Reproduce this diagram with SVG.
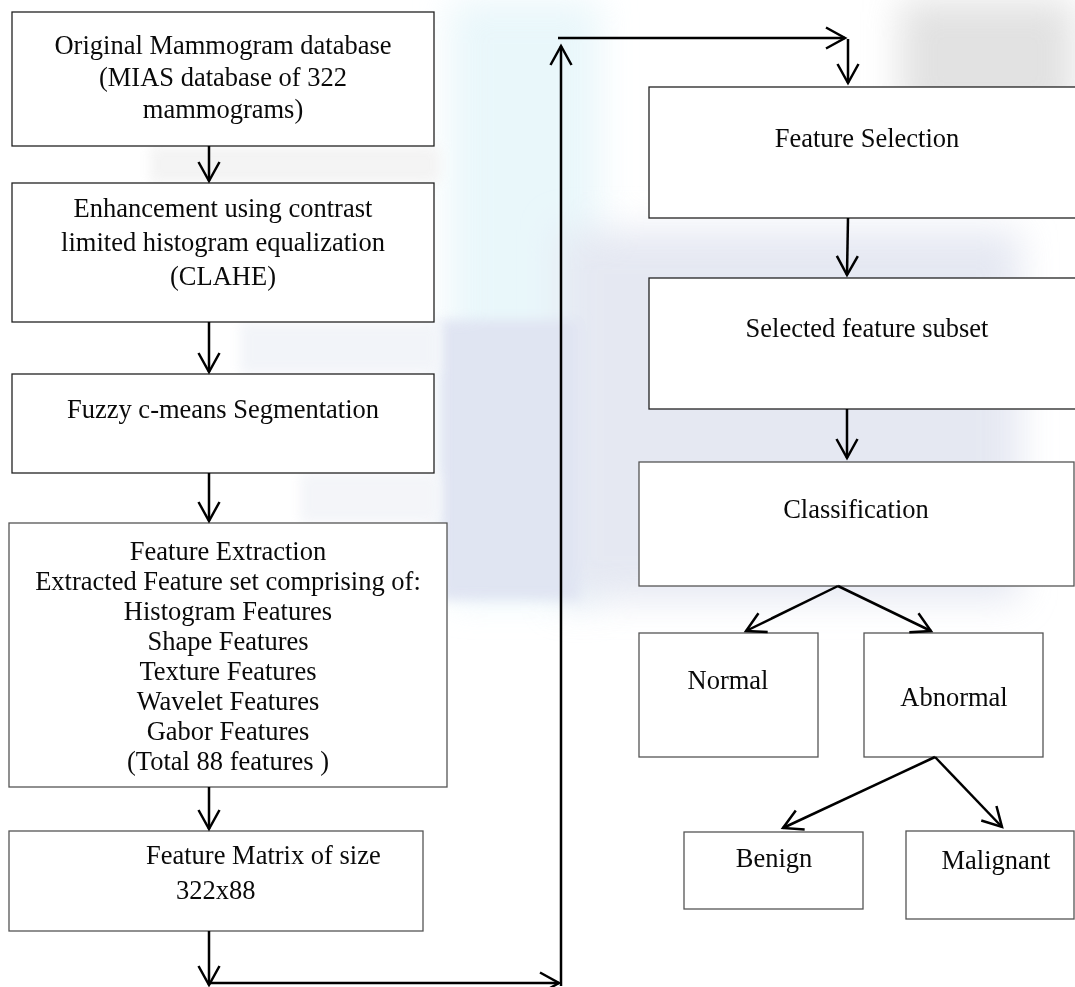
<svg xmlns="http://www.w3.org/2000/svg" width="1075" height="987" viewBox="0 0 1075 987">
<style>
.box{fill:#fff;stroke:#222;stroke-width:1.3}
.box2{fill:#fff;stroke:#555;stroke-width:1.3}
.t{font-family:"Liberation Serif","Times New Roman",serif;font-size:26.5px;fill:#0a0a0a;text-anchor:middle}
.ts{font-family:"Liberation Serif","Times New Roman",serif;font-size:26.5px;fill:#0a0a0a}
.c{stroke:#000;stroke-width:2.5;fill:none;marker-end:url(#ah)}
</style>
<defs>
<marker id="ah" markerUnits="userSpaceOnUse" markerWidth="40" markerHeight="40" viewBox="-20 -20 40 40" refX="0" refY="0" orient="auto" overflow="visible">
<path d="M-19,-10.5 L0,0 L-19,10.5" fill="none" stroke="#000" stroke-width="2.5"/>
</marker>
<filter id="blur" x="-50%" y="-50%" width="200%" height="200%"><feGaussianBlur stdDeviation="18"/></filter>
<filter id="blur2" x="-50%" y="-50%" width="200%" height="200%"><feGaussianBlur stdDeviation="6"/></filter>
</defs>
<rect x="0" y="0" width="1075" height="987" fill="#fff"/>
<g id="watermark" opacity="0.75">
<rect x="450" y="0" width="150" height="600" fill="#e2f4f9" filter="url(#blur)"/>
<rect x="560" y="230" width="460" height="370" fill="#dde1ee" filter="url(#blur)"/>
<rect x="440" y="320" width="140" height="280" fill="#d6dcee" filter="url(#blur2)"/>
<rect x="900" y="0" width="175" height="120" fill="#d8d8d8" filter="url(#blur)"/>
<rect x="150" y="146" width="290" height="37" fill="#f0f0f0" filter="url(#blur2)"/>
<rect x="240" y="322" width="200" height="52" fill="#eef1f7" filter="url(#blur2)"/>
<rect x="300" y="473" width="140" height="50" fill="#f0f2f7" filter="url(#blur2)"/>
</g>
<g id="n1"><rect class="box" x="12" y="12" width="422" height="134"/>
<text class="t" x="223" y="54">Original Mammogram database</text>
<text class="t" x="223" y="86">(MIAS database of 322</text>
<text class="t" x="223" y="118">mammograms)</text></g>
<g id="n2"><rect class="box" x="12" y="183" width="422" height="139"/>
<text class="t" x="223" y="217">Enhancement using contrast</text>
<text class="t" x="223" y="251">limited histogram equalization</text>
<text class="t" x="223" y="285">(CLAHE)</text></g>
<g id="n3"><rect class="box" x="12" y="374" width="422" height="99"/>
<text class="t" x="223" y="418">Fuzzy c-means Segmentation</text></g>
<g id="n4"><rect class="box2" x="9" y="523" width="438" height="264"/>
<text class="t" x="228" y="560">Feature Extraction</text>
<text class="t" x="228" y="590">Extracted Feature set comprising of:</text>
<text class="t" x="228" y="620">Histogram Features</text>
<text class="t" x="228" y="650">Shape Features</text>
<text class="t" x="228" y="680">Texture Features</text>
<text class="t" x="228" y="710">Wavelet Features</text>
<text class="t" x="228" y="740">Gabor Features</text>
<text class="t" x="228" y="770">(Total 88 features )</text></g>
<g id="n5"><rect class="box2" x="9" y="831" width="414" height="100"/>
<text class="ts" x="146" y="864">Feature Matrix of size</text>
<text class="ts" x="176" y="899">322x88</text></g>
<g id="n6"><rect class="box" x="649" y="87" width="440" height="131"/>
<text class="t" x="867" y="147">Feature Selection</text></g>
<g id="n7"><rect class="box" x="649" y="278" width="440" height="131"/>
<text class="t" x="867" y="337">Selected feature subset</text></g>
<g id="n8"><rect class="box2" x="639" y="462" width="435" height="124"/>
<text class="t" x="856" y="518">Classification</text></g>
<g id="n9"><rect class="box2" x="639" y="633" width="179" height="124"/>
<text class="t" x="728" y="689">Normal</text></g>
<g id="n10"><rect class="box2" x="864" y="633" width="179" height="124"/>
<text class="t" x="954" y="706">Abnormal</text></g>
<g id="n11"><rect class="box2" x="684" y="832" width="179" height="77"/>
<text class="t" x="774" y="867">Benign</text></g>
<g id="n12"><rect class="box2" x="906" y="831" width="168" height="88"/>
<text class="t" x="996" y="869">Malignant</text></g>
<g id="connectors">
<line class="c" x1="209" y1="146" x2="209" y2="181"/>
<line class="c" x1="209" y1="322" x2="209" y2="372"/>
<line class="c" x1="209" y1="473" x2="209" y2="521"/>
<line class="c" x1="209" y1="787" x2="209" y2="829"/>
<line class="c" x1="209" y1="931" x2="209" y2="985"/>
<line class="c" x1="209" y1="983" x2="559" y2="983"/>
<line class="c" x1="561" y1="986" x2="561" y2="46"/>
<line class="c" x1="558" y1="38" x2="845" y2="38"/>
<line class="c" x1="848" y1="39" x2="848" y2="83"/>
<line class="c" x1="848" y1="218" x2="847" y2="275"/>
<line class="c" x1="847" y1="409" x2="847" y2="458"/>
<line class="c" x1="838" y1="586" x2="746" y2="631"/>
<line class="c" x1="838" y1="586" x2="931" y2="631"/>
<line class="c" x1="935" y1="757" x2="783" y2="828"/>
<line class="c" x1="935" y1="757" x2="1002" y2="827"/>
</g>
</svg>
